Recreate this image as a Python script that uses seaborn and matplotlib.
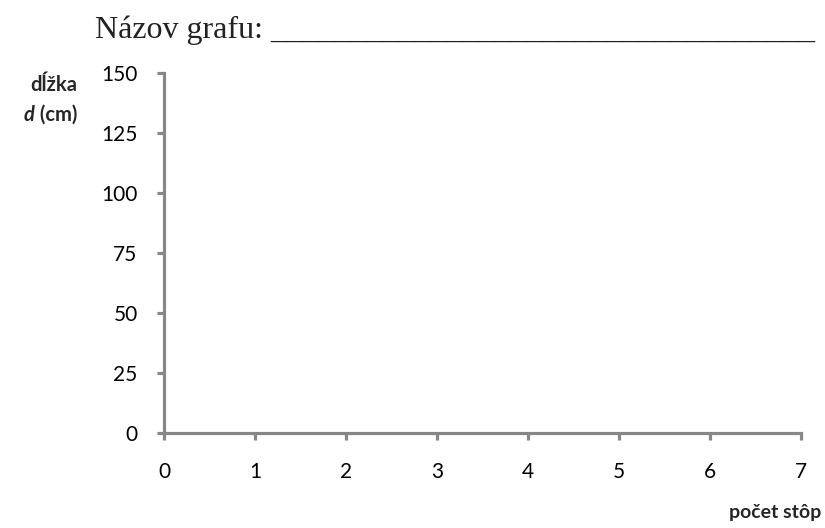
import matplotlib
matplotlib.use("Agg")
import matplotlib.pyplot as plt
import seaborn as sns
import pandas as pd

x_ticks = [0, 1, 2, 3, 4, 5, 6, 7]
y_ticks = [0, 25, 50, 75, 100, 125, 150]
title_text = "Názov grafu: " + "_" * 34
x_label = "počet stôp"
y_label_line1 = "dĺžka"
y_label_var = "d"
y_label_unit = " (cm)"

sns.set_style("white")
plt.rcParams["font.family"] = ["Lato", "DejaVu Sans"]

fig = plt.figure(figsize=(8.25, 5.28), dpi=100)
ax = fig.add_axes([164/825, 1 - 433/528, (801-164)/825, (433-73)/528])

empty = pd.DataFrame({"x": pd.Series([], dtype=float), "y": pd.Series([], dtype=float)})
sns.scatterplot(data=empty, x="x", y="y", ax=ax)

ax.set_xlim(x_ticks[0], x_ticks[-1])
ax.set_ylim(y_ticks[0], y_ticks[-1])
ax.set_xticks(x_ticks)
ax.set_yticks(y_ticks)
ax.set_xlabel("")
ax.set_ylabel("")

grey = "#878787"
for side in ["top", "right"]:
    ax.spines[side].set_visible(False)
for side in ["left", "bottom"]:
    ax.spines[side].set_color(grey)
    ax.spines[side].set_linewidth(2.3)
    ax.spines[side].set_capstyle("projecting")

ax.tick_params(axis="both", which="major", direction="out", length=5, width=2.3,
               color=grey, labelsize=15, labelcolor="black",
               bottom=True, left=True, top=False, right=False)
ax.tick_params(axis="y", pad=14)
ax.tick_params(axis="x", pad=16)

fig.text(95/825, 1 - 38/528, title_text, family=["Liberation Serif", "DejaVu Serif"],
         fontsize=23, color="#222222", ha="left", va="baseline")

fig.text(54/825, 1 - 91/528, y_label_line1, fontsize=14.5, fontweight="bold",
         ha="center", va="baseline")
t_d = fig.text(24/825, 1 - 121/528, y_label_var, fontsize=14.5, fontweight="bold",
               fontstyle="italic", ha="left", va="baseline")
fig.canvas.draw()
bb = t_d.get_window_extent()
fig.text(bb.x1 / fig.bbox.width, 1 - 121/528, y_label_unit, fontsize=14.5, fontweight="bold",
         ha="left", va="baseline")

fig.text(821/825, 1 - 518/528, x_label, fontsize=14, fontweight="bold",
         ha="right", va="baseline")

fig.savefig("out.png", dpi=100, facecolor="white")
